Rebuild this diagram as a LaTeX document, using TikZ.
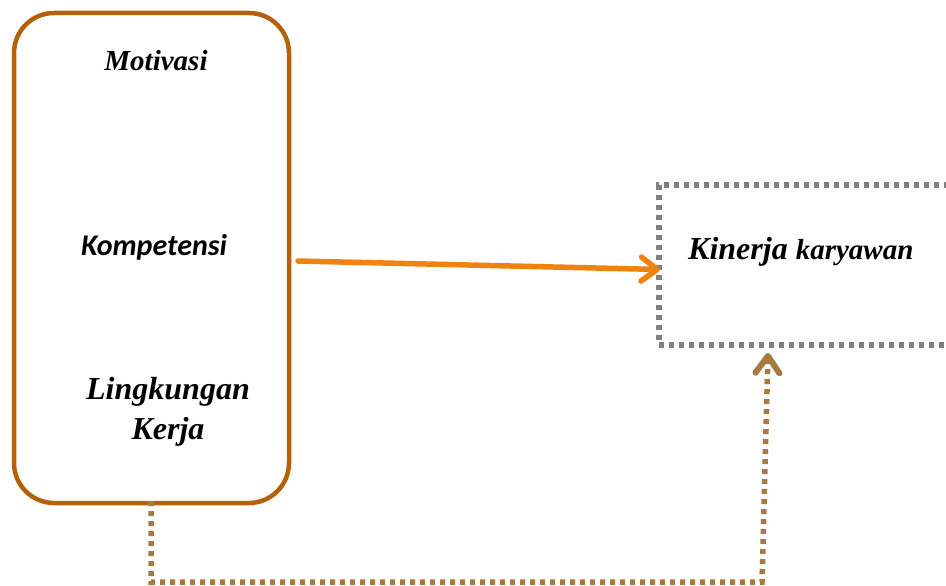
\documentclass[tikz,border=0pt]{standalone}
\usepackage{fontspec}
\setmainfont{Liberation Serif}
\newfontfamily\calib{Carlito}
\usetikzlibrary{arrows.meta}
\definecolor{rectbrown}{RGB}{182,96,10}
\definecolor{arroworange}{RGB}{240,130,15}
\definecolor{dotgrey}{RGB}{128,128,128}
\definecolor{dotbrown}{RGB}{166,124,62}
\tikzset{
  varbox/.style={draw=rectbrown, line width=4.5pt, rounded corners=40pt, minimum width=275pt, minimum height=490pt, inner sep=0pt},
  outbox/.style={draw=dotgrey, line width=5.5pt, dash pattern=on 5pt off 5pt, minimum width=360pt, minimum height=160pt, inner sep=0pt},
  lbl/.style={font=\bfseries\itshape, inner sep=0pt, align=center},
  mainarrow/.style={draw=arroworange, line width=5.5pt, line cap=round, -{Straight Barb[length=16pt,width=24pt,line cap=round,line join=round]}},
  fbarrow/.style={draw=dotbrown, line width=5.5pt, dash pattern=on 5pt off 5pt, -{Straight Barb[length=17pt,width=24pt,line cap=round,line join=round,line width=6pt]}},
}
\begin{document}
\begin{tikzpicture}[x=1pt,y=-1pt]
\clip (0,0) rectangle (946,586);
\fill[white] (0,0) rectangle (946,586);
\node[varbox] (vars) at (151.5,258) {};
\node[lbl, font=\fontsize{29}{32}\selectfont\bfseries\itshape] (mot) at (156,61) {Motivasi};
\node[lbl, font=\fontsize{30}{32}\selectfont\calib\bfseries\itshape] (komp) at (154,247) {Kompetensi};
\node[lbl, font=\fontsize{32}{40}\selectfont\bfseries\itshape] (ling) at (168,412) {Lingkungan\\Kerja};
\node[outbox] (kin) at (839,265) {};
\node[lbl, anchor=west] (kintext) at (688,252) {\fontsize{32}{34}\selectfont Kinerja \fontsize{29}{34}\selectfont karyawan};
\coordinate (a1) at (298,261);
\coordinate (a2) at (660,269.5);
\draw[mainarrow] (a1) -- (a2);
\coordinate (b1) at (151,501);
\coordinate (b2) at (151,582);
\coordinate (b3) at (762,582);
\coordinate (b4) at (768,353);
\draw[fbarrow] (b1) -- (b2) -- (b3) -- (b4);
\end{tikzpicture}
\end{document}
